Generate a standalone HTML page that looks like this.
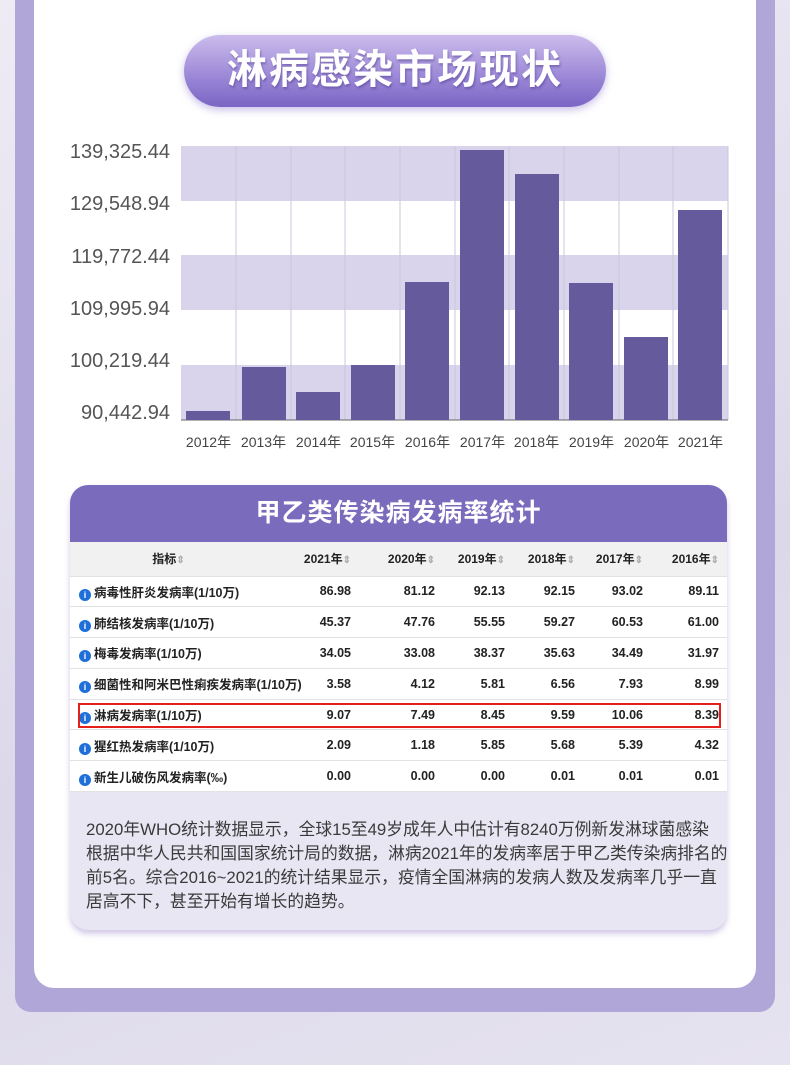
<!DOCTYPE html>
<html><head><meta charset="utf-8"><style>
*{margin:0;padding:0;box-sizing:border-box}
body{width:790px;height:1065px;background:linear-gradient(160deg,#eeebf5,#dcd8ea 60%,#e6e3f0);font-family:"Liberation Sans","Noto Sans CJK SC",sans-serif;position:relative;overflow:hidden}
.frame{position:absolute;left:15px;top:-20px;width:760px;height:1032px;background:#b0a6d8;border-radius:0 0 16px 16px}
.card{position:absolute;left:34px;top:-20px;width:722px;height:1008px;background:#fff;border-radius:0 0 20px 20px}
.title{position:absolute;left:184px;top:35px;width:422px;height:72px;border-radius:36px;background:linear-gradient(#cbbcec,#9a86d6 60%,#7a66c4);box-shadow:0 3px 8px rgba(150,130,210,.5);color:#fff;font-size:40px;font-weight:bold;text-align:center;line-height:70px;letter-spacing:2px;text-shadow:1px 2px 2px rgba(80,60,140,.5)}
.yl{position:absolute;right:620px;font-size:20px;color:#555;text-align:right}
.xl{position:absolute;top:432px;font-size:14px;color:#444;width:55px;text-align:center}
.tcard{position:absolute;left:70px;top:485px;width:657px;height:445px;border-radius:18px;background:#e9e6f3;box-shadow:0 4px 6px rgba(170,150,210,.5);overflow:hidden}
.th{height:57px;background:#7b6bbd;color:#fff;font-size:25px;font-weight:bold;text-align:center;line-height:57px;letter-spacing:1px}
table{position:absolute;left:0;top:57px;width:657px;border-collapse:collapse;background:#fff;font-size:12.5px;color:#222;table-layout:fixed;font-weight:bold}
td{height:30.8px;border-bottom:1px solid #e2e2e2;text-align:right;padding-right:8px;white-space:nowrap}
tr.h td{background:#f1f1f1;height:34px;font-size:12px}
td.n{text-align:left;padding-left:9px}
.i{display:inline-block;width:12px;height:12px;border-radius:6px;background:#1e6fd9;color:#fff;font-size:9px;text-align:center;line-height:12px;font-weight:bold;margin-right:3px;vertical-align:-1px}
.s{color:#aaa;font-size:10px}
.txt{position:absolute;left:16px;top:333px;width:640px;font-size:16.8px;line-height:24px;color:#3a3a3a;white-space:nowrap}
.red{position:absolute;left:78px;top:703px;width:643px;height:25px;border:2px solid #e5201c}
</style></head><body>
<div class="frame"></div><div class="card"></div>
<div class="title">淋病感染市场现状</div>
<svg style="position:absolute;left:0;top:0" width="790" height="470">
<rect x="181" y="146" width="547" height="55" fill="#d9d4ec"/>
<rect x="181" y="255" width="547" height="55" fill="#d9d4ec"/>
<rect x="181" y="365" width="547" height="55" fill="#d9d4ec"/>
<g stroke="#c8c8d8" stroke-width="1">
<line x1="236" y1="146" x2="236" y2="420"/><line x1="291" y1="146" x2="291" y2="420"/><line x1="345" y1="146" x2="345" y2="420"/><line x1="400" y1="146" x2="400" y2="420"/><line x1="455" y1="146" x2="455" y2="420"/><line x1="509" y1="146" x2="509" y2="420"/><line x1="564" y1="146" x2="564" y2="420"/><line x1="619" y1="146" x2="619" y2="420"/><line x1="673" y1="146" x2="673" y2="420"/><line x1="728" y1="146" x2="728" y2="420"/>
</g>
<line x1="181" y1="420" x2="728" y2="420" stroke="#666"/>
<g fill="#655a9c">
<rect x="186" y="411" width="44" height="9"/>
<rect x="242" y="367" width="44" height="53"/>
<rect x="296" y="392" width="44" height="28"/>
<rect x="351" y="365" width="44" height="55"/>
<rect x="405" y="282" width="44" height="138"/>
<rect x="460" y="150" width="44" height="270"/>
<rect x="515" y="174" width="44" height="246"/>
<rect x="569" y="283" width="44" height="137"/>
<rect x="624" y="337" width="44" height="83"/>
<rect x="678" y="210" width="44" height="210"/>
</g>
</svg>
<div class="yl" style="top:141px">139,325.44</div>
<div class="yl" style="top:193px">129,548.94</div>
<div class="yl" style="top:246px">119,772.44</div>
<div class="yl" style="top:298px">109,995.94</div>
<div class="yl" style="top:350px">100,219.44</div>
<div class="yl" style="top:402px">90,442.94</div>
<div class="xl" style="left:181px">2012年</div><div class="xl" style="left:236px">2013年</div><div class="xl" style="left:291px">2014年</div><div class="xl" style="left:345px">2015年</div><div class="xl" style="left:400px">2016年</div><div class="xl" style="left:455px">2017年</div><div class="xl" style="left:509px">2018年</div><div class="xl" style="left:564px">2019年</div><div class="xl" style="left:619px">2020年</div><div class="xl" style="left:673px">2021年</div>
<div class="tcard">
<div class="th">甲乙类传染病发病率统计</div>
<table>
<colgroup><col style="width:205px"><col style="width:84px"><col style="width:84px"><col style="width:70px"><col style="width:70px"><col style="width:68px"><col style="width:76px"></colgroup>
<tr class="h"><td style="text-align:center">指标<span class="s">⇕</span></td><td>2021年<span class="s">⇕</span></td><td>2020年<span class="s">⇕</span></td><td>2019年<span class="s">⇕</span></td><td>2018年<span class="s">⇕</span></td><td>2017年<span class="s">⇕</span></td><td>2016年<span class="s">⇕</span></td></tr>
<tr><td class="n"><span class="i">i</span>病毒性肝炎发病率(1/10万)</td><td>86.98</td><td>81.12</td><td>92.13</td><td>92.15</td><td>93.02</td><td>89.11</td></tr>
<tr><td class="n"><span class="i">i</span>肺结核发病率(1/10万)</td><td>45.37</td><td>47.76</td><td>55.55</td><td>59.27</td><td>60.53</td><td>61.00</td></tr>
<tr><td class="n"><span class="i">i</span>梅毒发病率(1/10万)</td><td>34.05</td><td>33.08</td><td>38.37</td><td>35.63</td><td>34.49</td><td>31.97</td></tr>
<tr><td class="n"><span class="i">i</span>细菌性和阿米巴性痢疾发病率(1/10万)</td><td>3.58</td><td>4.12</td><td>5.81</td><td>6.56</td><td>7.93</td><td>8.99</td></tr>
<tr><td class="n"><span class="i">i</span>淋病发病率(1/10万)</td><td>9.07</td><td>7.49</td><td>8.45</td><td>9.59</td><td>10.06</td><td>8.39</td></tr>
<tr><td class="n"><span class="i">i</span>猩红热发病率(1/10万)</td><td>2.09</td><td>1.18</td><td>5.85</td><td>5.68</td><td>5.39</td><td>4.32</td></tr>
<tr><td class="n"><span class="i">i</span>新生儿破伤风发病率(‰)</td><td>0.00</td><td>0.00</td><td>0.00</td><td>0.01</td><td>0.01</td><td>0.01</td></tr>
</table>
<div class="txt">2020年WHO统计数据显示，全球15至49岁成年人中估计有8240万例新发淋球菌感染<br>根据中华人民共和国国家统计局的数据，淋病2021年的发病率居于甲乙类传染病排名的<br>前5名。综合2016~2021的统计结果显示，疫情全国淋病的发病人数及发病率几乎一直<br>居高不下，甚至开始有增长的趋势。</div>
</div>
<div class="red"></div>
</body></html>
